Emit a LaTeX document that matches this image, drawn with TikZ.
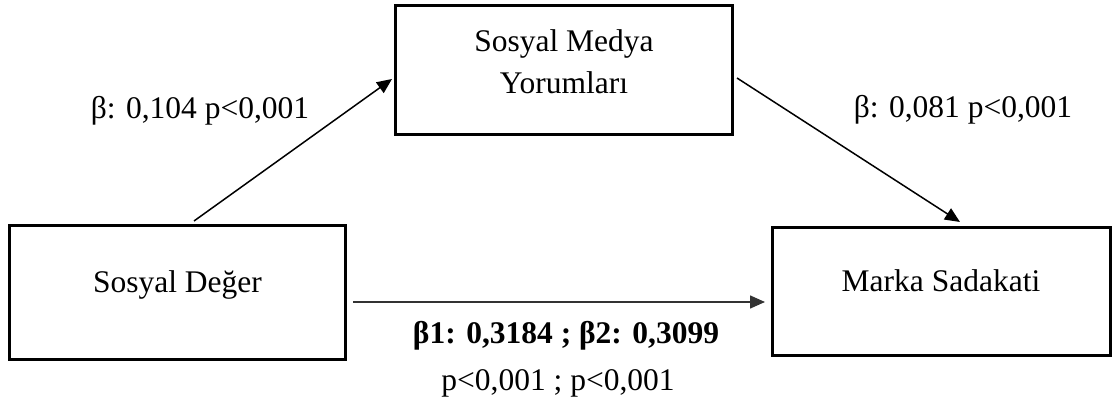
\documentclass[tikz,border=0pt]{standalone}
\usepackage{fontspec}
\setmainfont{Liberation Serif}
\usetikzlibrary{arrows.meta}
\tikzset{
  box/.style={draw=black, line width=3pt, inner sep=0pt, font=\fontsize{31.5}{42}\selectfont},
  conn/.style={line width=1.5pt, -{Triangle[length=15pt,width=13pt]}},
  lbl/.style={anchor=base, inner sep=0pt, font=\fontsize{31.5}{38}\selectfont},
}
\begin{document}
\begin{tikzpicture}[x=1pt,y=1pt]
\useasboundingbox (0,0) rectangle (1112,413);
\node[box, minimum width=336pt, minimum height=134pt, text height=10pt, text depth=10pt] (sd) at (177.5,120.5) {Sosyal Değer};
\node[box, minimum width=337pt, minimum height=129pt, align=center, text depth=16pt] (smy) at (564,343) {Sosyal Medya\\Yorumları};
\node[box, minimum width=338pt, minimum height=128pt, text height=10pt, text depth=10pt] (ms) at (941,121.5) {Marka Sadakati};
\coordinate (a1s) at ([xshift=16.5pt,yshift=3pt]sd.north);
\coordinate (a1e) at ([xshift=-2pt,yshift=-9pt]smy.west);
\coordinate (a2s) at ([xshift=3pt,yshift=-8pt]smy.east);
\coordinate (a2e) at ([xshift=19pt,yshift=4pt]ms.north);
\coordinate (a3s) at ([xshift=6pt,yshift=-9.5pt]sd.east);
\coordinate (a3e) at ([xshift=-5.5pt,yshift=-10.5pt]ms.west);
\draw[conn] (a1s) -- (a1e);
\draw[conn] (a2s) -- (a2e);
\draw[conn, draw=black!80] (a3s) -- (a3e);
\node[lbl] (l1) at (200,294) {β: 0,104 p<0,001};
\node[lbl] (l2) at (963,295) {β: 0,081 p<0,001};
\node[lbl, font=\fontsize{31.5}{38}\selectfont\bfseries] (l3) at (566,70) {β1: 0,3184 ; β2: 0,3099};
\node[lbl] (l4) at (558,23) {p<0,001 ; p<0,001};
\end{tikzpicture}
\end{document}
